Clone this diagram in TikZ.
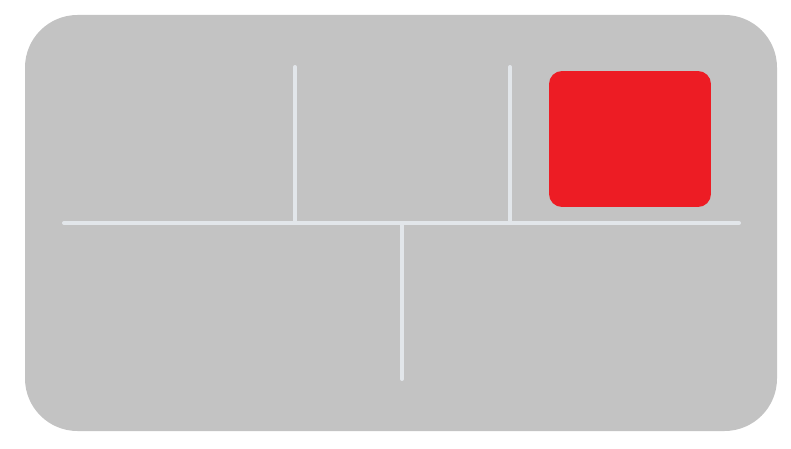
\documentclass[tikz,border=0pt]{standalone}
\usepackage{xcolor}
\definecolor{panelgray}{RGB}{195,195,195}
\definecolor{seamline}{RGB}{226,230,234}
\definecolor{alertred}{RGB}{237,28,36}
\usetikzlibrary{positioning}

\begin{document}
\begin{tikzpicture}[x=0.02cm, y=-0.02cm,
  seam/.style={draw=seamline, line width=0.08cm, line cap=round},
  redtile/.style={fill=alertred, rounded corners=0.26cm, minimum width=3.24cm, minimum height=2.72cm, inner sep=0pt}]
  \useasboundingbox (0,0) rectangle (791,449);

  % Background panel
  \fill[panelgray, rounded corners=1.05cm] (25,15) rectangle (777,431);

  % Seam end points
  \coordinate (hleft) at (64,223);
  \coordinate (hright) at (739,223);
  \coordinate (vatop) at (295,67);
  \coordinate (vabot) at (295,223);
  \coordinate (vbtop) at (510,67);
  \coordinate (vbbot) at (510,223);
  \coordinate (vctop) at (402,223);
  \coordinate (vcbot) at (402,379);

  % Seams
  \draw[seam] (hleft) -- (hright);
  \draw[seam] (vatop) -- (vabot);
  \draw[seam] (vbtop) -- (vbbot);
  \draw[seam] (vctop) -- (vcbot);

  % Red tile
  \node[redtile] (tile) at (630,139) {};
\end{tikzpicture}
\end{document}
